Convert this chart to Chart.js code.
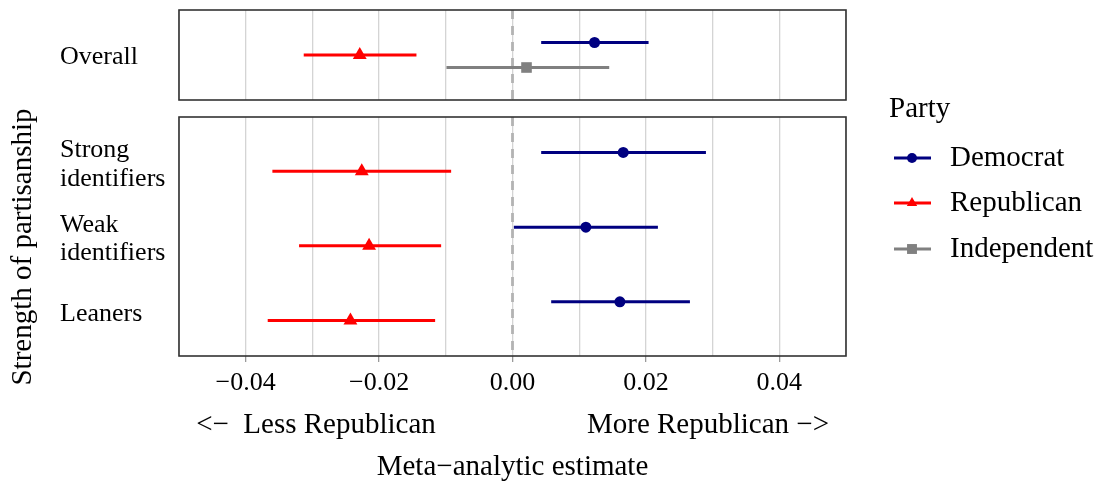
<!DOCTYPE html>
<html>
<head>
<meta charset="utf-8">
<script src="https://cdn.jsdelivr.net/npm/chart.js@4.4.1/dist/chart.umd.min.js"></script>
<style>
  html, body { margin: 0; padding: 0; background: #fff; }
  #wrap { position: relative; width: 1102px; height: 485px; overflow: hidden; }
  #wrap canvas { position: absolute; left: 0; }
  #panel-bottom { top: 0; }
  #panel-top { top: -40px; }
</style>
</head>
<body>
<div id="wrap">
  <canvas id="panel-bottom" width="1102" height="485"></canvas>
  <canvas id="panel-top" width="1102" height="525"></canvas>
</div>
<script>
// ===== data =====
const parties = ['Democrat', 'Republican', 'Independent'];
const partyColors = ['#000080', '#ff0000', '#808080'];
const partyShapes = ['circle', 'triangle', 'rect'];
const partyRadius = [5.5, 8, 7.5];

const topCategories = [['Overall']];
const bottomCategories = [['Strong', 'identifiers'], ['Weak', 'identifiers'], ['Leaners']];

// Overall: Democrat, Republican, Independent
const overallEst  = [0.0123, -0.0229, 0.0021];
const overallLow  = [0.0043, -0.0313, -0.0099];
const overallHigh = [0.0204, -0.0144, 0.0145];

// Strength of partisanship: Strong, Weak, Leaners
const demEst  = [0.0166, 0.0110, 0.0161];
const demLow  = [0.0043, 0.0002, 0.0058];
const demHigh = [0.0290, 0.0218, 0.0266];
const repEst  = [-0.0226, -0.0215, -0.0243];
const repLow  = [-0.0360, -0.0320, -0.0367];
const repHigh = [-0.0092, -0.0107, -0.0116];

const xTickLabels = [-0.04, -0.02, 0, 0.02, 0.04];

const FONT = "'Liberation Serif', 'Times New Roman', serif";
const GRID = '#d4d4d4';
const LABEL_NUDGE = 0.035; // category labels sit a touch below the row centre

function fmtTick(v) {
    const s = Math.abs(v).toFixed(2);
    return v < -1e-9 ? '\u2212' + s : s;
}
function isLabelled(v) {
    return xTickLabels.some(t => Math.abs(t - v) < 1e-6);
}

/**
 * one party: an error bar line per row plus the point markers
 */
function partySets(p, est, low, high, ys) {
    const sets = [];
    ys.forEach((y, i) => {
        sets.push({
            data: [{ x: low[i], y: y }, { x: high[i], y: y }],
            showLine: true, borderColor: partyColors[p], borderWidth: 3,
            pointRadius: 0, order: 2
        });
    });
    sets.push({
        data: est.map((x, i) => ({ x: x, y: ys[i] })),
        showLine: false, pointStyle: partyShapes[p], pointRadius: partyRadius[p],
        backgroundColor: partyColors[p], borderColor: partyColors[p], borderWidth: 0,
        order: 1
    });
    return sets;
}

function zeroLine(yMax) {
    return {
        data: [{ x: 0, y: 0.4 }, { x: 0, y: yMax }],
        showLine: true, borderColor: '#b3b3b3', borderWidth: 2.8, borderDash: [9, 7],
        pointRadius: 0, order: 5
    };
}

const framePlugin = {
    id: 'frame',
    afterDraw(chart) {
        const a = chart.chartArea, ctx = chart.ctx;
        ctx.save();
        ctx.strokeStyle = '#333333';
        ctx.lineWidth = 1.6;
        ctx.strokeRect(a.left, a.top, a.right - a.left, a.bottom - a.top);
        ctx.restore();
    }
};

function panelConfig(cats, datasets, pad, showX) {
    return {
        type: 'scatter',
        data: { datasets: datasets },
        options: {
            responsive: false,
            animation: false,
            events: [],
            layout: { padding: pad },
            plugins: { legend: { display: false }, tooltip: { enabled: false } },
            scales: {
                x: {
                    type: 'linear', min: -0.05, max: 0.05,
                    afterFit: s => { s.height = showX ? 129 : 0; },
                    ticks: {
                        display: showX, stepSize: 0.01, autoSkip: false, maxRotation: 0,
                        padding: 6, color: '#000',
                        font: { family: FONT, size: 26 },
                        callback: v => isLabelled(v) ? fmtTick(v) : ''
                    },
                    grid: {
                        color: GRID, lineWidth: 1.3, drawTicks: showX, tickLength: 6,
                        tickColor: c => (c.tick && isLabelled(c.tick.value)) ? '#9a9a9a' : 'rgba(0,0,0,0)'
                    },
                    border: { display: false }
                },
                y: {
                    type: 'linear', reverse: true, min: 0.4, max: cats.length + 0.6,
                    afterFit: s => { s.width = 119; },
                    afterBuildTicks: s => { s.ticks = cats.map((c, i) => ({ value: i + 1 + LABEL_NUDGE })); },
                    ticks: {
                        crossAlign: 'far', color: '#000',
                        font: { family: FONT, size: 26, lineHeight: 1.1 },
                        callback: v => cats[Math.round(v) - 1]
                    },
                    grid: { display: false },
                    border: { display: false }
                }
            }
        },
        plugins: [framePlugin]
    };
}

// ---- top panel: Overall, three parties dodged ----
const topDodge = [-1 / 6, 0, 1 / 6];
let topSets = [zeroLine(1.6)];
[0, 1, 2].forEach(p => {
    topSets = topSets.concat(partySets(p, [overallEst[p]], [overallLow[p]], [overallHigh[p]], [1 + topDodge[p]]));
});

// ---- bottom panel: strength of partisanship, two parties dodged ----
const rows = bottomCategories.map((c, i) => i + 1);
let bottomSets = [zeroLine(3.6)];
bottomSets = bottomSets.concat(partySets(0, demEst, demLow, demHigh, rows.map(r => r - 0.125)));
bottomSets = bottomSets.concat(partySets(1, repEst, repLow, repHigh, rows.map(r => r + 0.125)));

// texts outside the panels + legend
const annotPlugin = {
    id: 'annot',
    afterDraw(chart) {
        const ctx = chart.ctx;
        const xs = chart.scales.x;
        ctx.save();
        ctx.fillStyle = '#000';
        ctx.font = '29px ' + FONT;
        ctx.textBaseline = 'middle';
        ctx.textAlign = 'center';
        ctx.fillText('<\u2212  Less Republican', 316, 425);
        ctx.fillText('More Republican \u2212>', 708, 425);
        ctx.fillText('Meta\u2212analytic estimate', (xs.left + xs.right) / 2, 467);

        // y title
        ctx.save();
        ctx.translate(23, 247);
        ctx.rotate(-Math.PI / 2);
        ctx.fillText('Strength of partisanship', 0, 0);
        ctx.restore();

        // legend
        ctx.textAlign = 'left';
        ctx.fillText('Party', 889, 109);
        const ly = [158, 203, 249];
        const lr = [5, 6, 7];
        parties.forEach((name, p) => {
            const y = ly[p];
            ctx.strokeStyle = partyColors[p];
            ctx.fillStyle = partyColors[p];
            ctx.lineWidth = 3;
            ctx.beginPath();
            ctx.moveTo(894, y);
            ctx.lineTo(931, y);
            ctx.stroke();
            const cx = 912, r = lr[p];
            ctx.beginPath();
            if (partyShapes[p] === 'circle') {
                ctx.arc(cx, y, r, 0, Math.PI * 2);
            } else if (partyShapes[p] === 'triangle') {
                ctx.moveTo(cx, y - r);
                ctx.lineTo(cx + r * 0.866, y + r / 2);
                ctx.lineTo(cx - r * 0.866, y + r / 2);
                ctx.closePath();
            } else {
                const h = r * Math.SQRT1_2;
                ctx.rect(cx - h, y - h, 2 * h, 2 * h);
            }
            ctx.fill();
            ctx.fillStyle = '#000';
            ctx.fillText(name, 950, y);
        });
        ctx.restore();
    }
};

const bottomCfg = panelConfig(bottomCategories, bottomSets, { left: 60, right: 256, top: 117, bottom: 0 }, true);
bottomCfg.plugins.push(annotPlugin);
new Chart(document.getElementById('panel-bottom'), bottomCfg);

// top canvas sits 40px higher, so its plot area runs 50..140 in its own coordinates (10..100 on the page)
new Chart(document.getElementById('panel-top'),
    panelConfig(topCategories, topSets, { left: 60, right: 256, top: 50, bottom: 385 }, false));
</script>
</body>
</html>
